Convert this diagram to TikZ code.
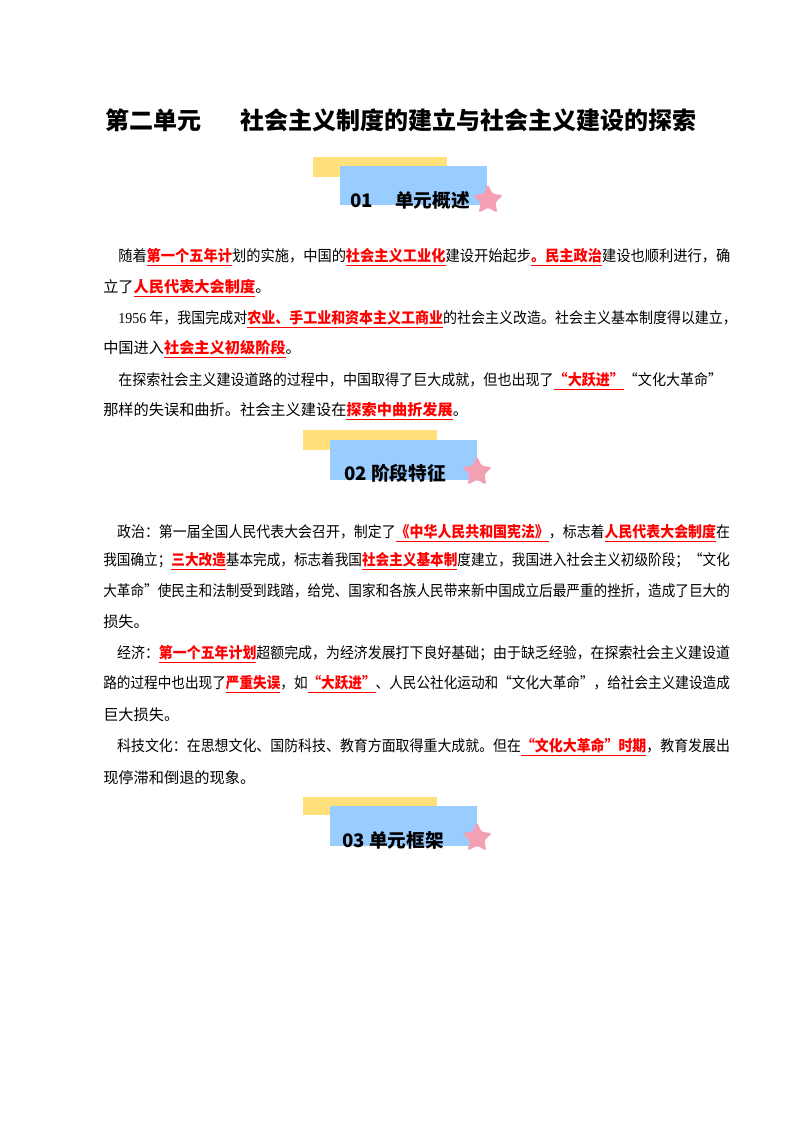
\documentclass[tikz,border=0pt]{standalone}
\usepackage{fontspec}
\setmainfont{Noto Sans CJK SC}
\newfontfamily\tms{Liberation Serif}
\usetikzlibrary{shapes.geometric}
\definecolor{ylw}{HTML}{FFE07A}
\definecolor{blu}{HTML}{99CCFF}
\definecolor{pnk}{HTML}{F4A0B4}
\newcommand{\hl}[1]{{\color{red}\bfseries\underline{#1}}}
\newcommand{\fl}[2]{\resizebox{#1}{\height}{#2}}
\tikzset{
 ln/.style={anchor=west,inner sep=0pt,font=\fontsize{11.4pt}{12pt}\selectfont},
 ttl/.style={inner sep=0pt,font=\fontsize{18pt}{20pt}\selectfont\bfseries},
 hd/.style={inner sep=0pt,font=\fontsize{14pt}{15pt}\selectfont\bfseries},
 pstar/.style={star,star points=5,star point ratio=2.1,fill=pnk,draw=none,minimum size=24pt,inner sep=0pt,rounded corners=2pt}
}
\begin{document}
\begin{tikzpicture}[x=0.75pt,y=-0.75pt]
\useasboundingbox (0,0) rectangle (800,1132);
\node[ttl] (title) at (401,120) {第二单元\hspace{1.6em}社会主义制度的建立与社会主义建设的探索};
% badge 1
\fill[ylw] (313,157) rectangle (447,177);
\fill[blu] (340,166) rectangle (487,205);
\node[hd] (h1) at (410,200) {01\hspace{1.2em}单元概述};
\node[pstar] (s1) at (488,200) {};
% section 1
\node[ln] (a1) at (118,257) {\fl{459pt}{随着\hl{第一个五年计}划的实施，中国的\hl{社会主义工业化}建设开始起步\hl{。民主政治}建设也顺利进行，确}};
\node[ln] (a2) at (103,288) {立了\hl{人民代表大会制度}。};
\node[ln] (a3) at (118,319) {\fl{464pt}{{\tms 1956} 年，我国完成对\hl{农业、手工业和资本主义工商业}的社会主义改造。社会主义基本制度得以建立，}};
\node[ln] (a4) at (103,349) {中国进入\hl{社会主义初级阶段}。};
\node[ln] (a5) at (118,381) {\fl{453pt}{在探索社会主义建设道路的过程中，中国取得了巨大成就，但也出现了\hl{“大跃进”}“文化大革命”}};
\node[ln] (a6) at (103,411) {那样的失误和曲折。社会主义建设在\hl{探索中曲折发展}。};
% badge 2
\fill[ylw] (303,430) rectangle (437,450);
\fill[blu] (330,440) rectangle (477,480);
\node[hd] (h2) at (395,473) {02 阶段特征};
\node[pstar] (s2) at (477,472) {};
% section 2
\node[ln] (b1) at (103,533) {\fl{470pt}{\hspace{1em}政治：第一届全国人民代表大会召开，制定了\hl{《中华人民共和国宪法》}，标志着\hl{人民代表大会制度}在}};
\node[ln] (b2) at (103,561) {\fl{470pt}{我国确立；\hl{三大改造}基本完成，标志着我国\hl{社会主义基本制}度建立，我国进入社会主义初级阶段；“文化}};
\node[ln] (b3) at (103,591) {\fl{470pt}{大革命”使民主和法制受到践踏，给党、国家和各族人民带来新中国成立后最严重的挫折，造成了巨大的}};
\node[ln] (b4) at (103,622) {损失。};
\node[ln] (b5) at (103,654) {\fl{470pt}{\hspace{1em}经济：\hl{第一个五年计划}超额完成，为经济发展打下良好基础；由于缺乏经验，在探索社会主义建设道}};
\node[ln] (b6) at (103,684) {\fl{470pt}{路的过程中也出现了\hl{严重失误}，如\hl{“大跃进”}、人民公社化运动和“文化大革命”，给社会主义建设造成}};
\node[ln] (b7) at (103,715) {巨大损失。};
\node[ln] (b8) at (103,747) {\fl{470pt}{\hspace{1em}科技文化：在思想文化、国防科技、教育方面取得重大成就。但在\hl{“文化大革命”时期}，教育发展出}};
\node[ln] (b9) at (103,778) {现停滞和倒退的现象。};
% badge 3
\fill[ylw] (303,797) rectangle (437,815);
\fill[blu] (330,806) rectangle (477,846);
\node[hd] (h3) at (393,840) {03 单元框架};
\node[pstar] (s3) at (477,838) {};
\end{tikzpicture}
\end{document}
